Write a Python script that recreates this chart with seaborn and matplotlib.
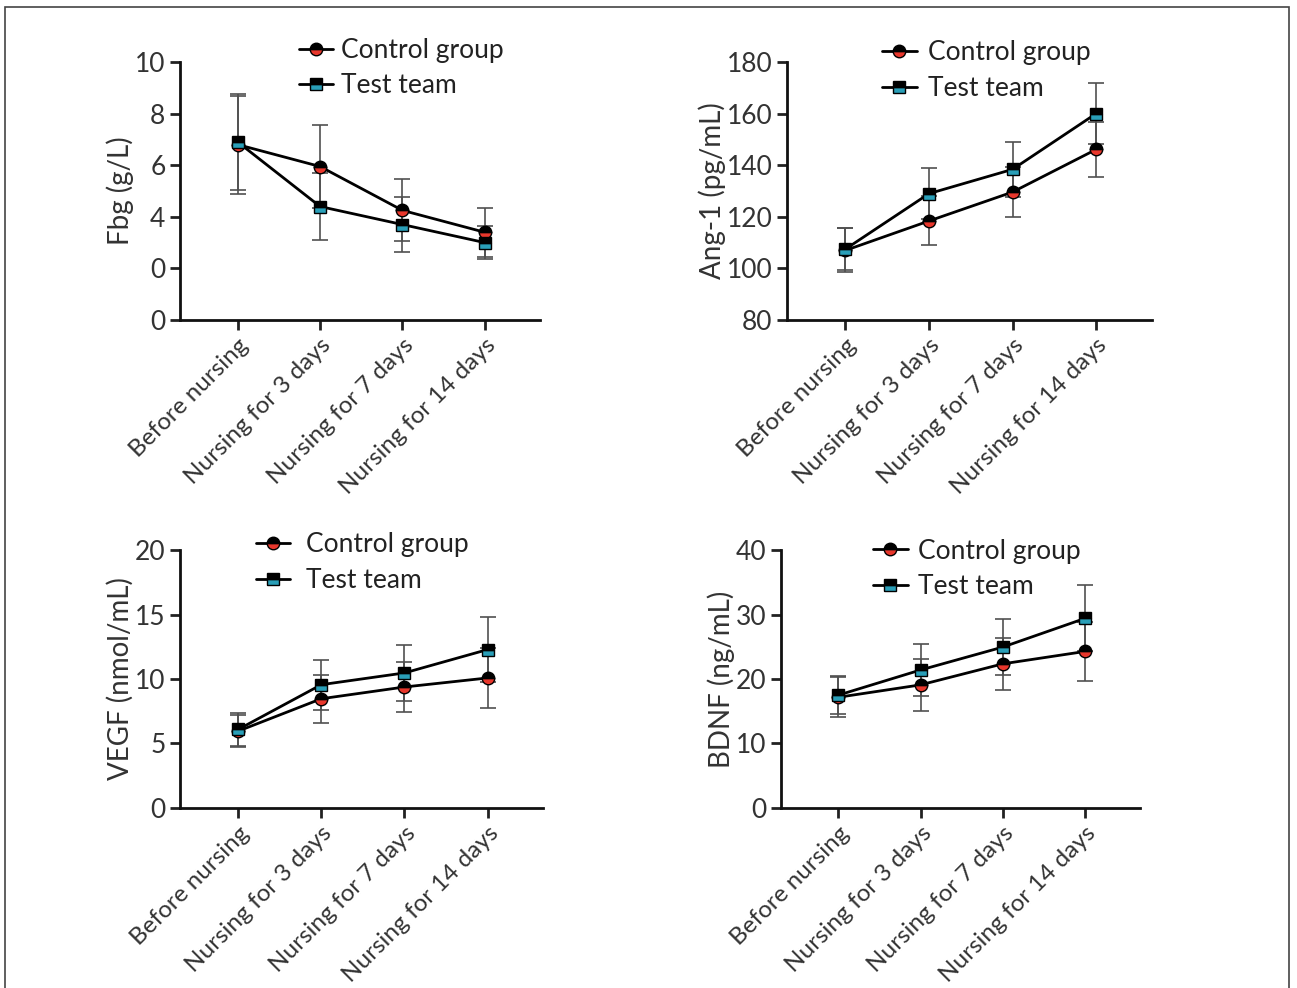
import numpy as np
import pandas as pd
import seaborn as sns
import matplotlib.pyplot as plt
from matplotlib.patches import Rectangle

stages = ["Before nursing", "Nursing for 3 days", "Nursing for 7 days", "Nursing for 14 days"]

# Fbg (g/L)
fbg_ctrl = [6.8, 5.95, 4.25, 3.4]
fbg_ctrl_sd = [1.9, 1.6, 1.2, 0.95]
fbg_test = [6.9, 4.4, 3.7, 3.0]
fbg_test_sd = [1.85, 1.3, 1.05, 0.65]

# Ang-1 (pg/mL)
ang_ctrl = [107.0, 118.4, 129.6, 146.1]
ang_ctrl_sd = [8.5, 9.5, 9.6, 10.6]
ang_test = [107.5, 129.0, 138.4, 160.0]
ang_test_sd = [8.0, 10.0, 10.7, 11.8]

# VEGF (nmol/mL)
vegf_ctrl = [5.96, 8.47, 9.38, 10.08]
vegf_ctrl_sd = [1.25, 1.87, 1.95, 2.3]
vegf_test = [6.09, 9.56, 10.47, 12.28]
vegf_test_sd = [1.3, 1.94, 2.15, 2.5]

# BDNF (ng/mL)
bdnf_ctrl = [17.17, 19.09, 22.35, 24.27]
bdnf_ctrl_sd = [3.1, 4.0, 4.05, 4.55]
bdnf_test = [17.5, 21.4, 24.95, 29.4]
bdnf_test_sd = [3.0, 4.1, 4.35, 5.1]

panels = [
    ("Fbg (g/L)", fbg_ctrl, fbg_ctrl_sd, fbg_test, fbg_test_sd, (0, 10), [0, 2, 4, 6, 8, 10], ["0", "0", "4", "6", "8", "10"]),
    ("Ang-1 (pg/mL)", ang_ctrl, ang_ctrl_sd, ang_test, ang_test_sd, (80, 180), [80, 100, 120, 140, 160, 180], None),
    ("VEGF (nmol/mL)", vegf_ctrl, vegf_ctrl_sd, vegf_test, vegf_test_sd, (0, 20), [0, 5, 10, 15, 20], None),
    ("BDNF (ng/mL)", bdnf_ctrl, bdnf_ctrl_sd, bdnf_test, bdnf_test_sd, (0, 40), [0, 10, 20, 30, 40], None),
]

# axes boxes in figure fractions (left, bottom, width, height)
boxes = [
    (0.1388, 0.6761, 0.2776, 0.2611),
    (0.6068, 0.6761, 0.2814, 0.2611),
    (0.1388, 0.1822, 0.2800, 0.2611),
    (0.6020, 0.1822, 0.2770, 0.2611),
]
legend_pos = [(0.30, 1.135), (0.232, 1.125), (0.18, 1.11), (0.228, 1.085)]
legend_pad = [0.3, 0.45, 0.6, 0.4]

sns.set_style("ticks")
plt.rcParams['font.family'] = ['Lato', 'DejaVu Sans']
plt.rcParams['text.color'] = '#222222'

fig = plt.figure(figsize=(12.97, 9.88), dpi=100)
fig.add_artist(Rectangle((5 / 1297, -0.05), 1284 / 1297, (988 - 7) / 988 + 0.05,
                         transform=fig.transFigure, fill=False, lw=1.2, ec='#444444'))

for i, (ylab, c, csd, t, tsd, ylim, yt, ytl) in enumerate(panels):
    ax = fig.add_axes(boxes[i])
    df_c = pd.DataFrame({"stage": stages, "value": c})
    df_t = pd.DataFrame({"stage": stages, "value": t})

    ax.errorbar(stages, c, yerr=csd, fmt='none', ecolor='#505050', elinewidth=1.2,
                capsize=6, capthick=1.2, zorder=2)
    ax.errorbar(stages, t, yerr=tsd, fmt='none', ecolor='#505050', elinewidth=1.2,
                capsize=6, capthick=1.2, zorder=2)

    sns.lineplot(data=df_c, x="stage", y="value", ax=ax, sort=False, color='black', lw=2,
                 marker='o', markersize=9, fillstyle='bottom', markerfacecolor='#e8372c',
                 markerfacecoloralt='black', markeredgecolor='black', markeredgewidth=1,
                 label="Control group", zorder=3)
    sns.lineplot(data=df_t, x="stage", y="value", ax=ax, sort=False, color='black', lw=2,
                 marker='s', markersize=9, fillstyle='bottom', markerfacecolor='#2a9fb8',
                 markerfacecoloralt='black', markeredgecolor='black', markeredgewidth=1,
                 label="Test team", zorder=4)

    ax.set_ylim(*ylim)
    ax.set_xlim(-0.7, 3.67)
    ax.set_yticks(yt)
    if ytl is not None:
        ax.set_yticklabels(ytl)
    ax.set_xlabel("")
    ax.set_ylabel(ylab, fontsize=20, labelpad=0.5, color='#333333')
    ax.tick_params(axis='y', labelsize=19, width=2, length=7, colors='#222222', labelcolor='#333333')
    ax.tick_params(axis='x', labelsize=17.5, width=2, length=7, colors='#222222', labelcolor='#333333')
    plt.setp(ax.get_xticklabels(), rotation=45, ha='right', rotation_mode='anchor')
    for s in ['left', 'bottom']:
        ax.spines[s].set_linewidth(2)
        ax.spines[s].set_color('#111111')
    sns.despine(ax=ax)
    ax.legend(loc='upper left', bbox_to_anchor=legend_pos[i], frameon=False, fontsize=19,
              handlelength=1.3, handletextpad=legend_pad[i], labelspacing=0.4, borderaxespad=0)

plt.savefig("out.png", dpi=100)
